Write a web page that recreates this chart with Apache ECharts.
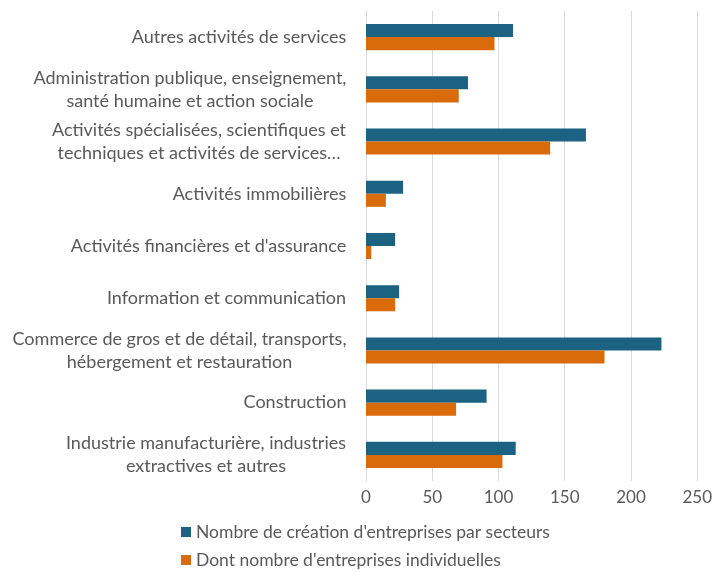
<!DOCTYPE html>
<html>
<head>
<meta charset="utf-8">
<script src="https://cdn.jsdelivr.net/npm/echarts@6/dist/echarts.min.js"></script>
<style>
  html, body { margin: 0; padding: 0; background: #fff; }
  #chart { width: 715px; height: 572px; }
</style>
</head>
<body>
<div id="chart"></div>
<script>
// Sectors, listed top to bottom
const categories = [
  "Autres activités de services",
  "Administration publique, enseignement,\nsanté humaine et action sociale",
  "Activités spécialisées, scientifiques et\ntechniques et activités de services…",
  "Activités immobilières",
  "Activités financières et d'assurance",
  "Information et communication",
  "Commerce de gros et de détail, transports,\nhébergement et restauration",
  "Construction",
  "Industrie manufacturière, industries\nextractives et autres"
];
const creations = [111, 77, 166, 28, 22, 25, 223, 91, 113];
const individuelles = [97, 70, 139, 15, 4, 22, 180, 68, 103];
const seriesNames = [
  "Nombre de création d'entreprises par secteurs",
  "Dont nombre d'entreprises individuelles"
];
const xTicks = { min: 0, max: 250, step: 50 };

const FONT = "Lato";
const FS = 18;
const TEXT = "#595959";
const BLUE = "#1c6383";
const ORANGE = "#d96b0a";

// Centre each line of a multi-line label inside the label's own width
const ctx = document.createElement("canvas").getContext("2d");
ctx.font = FS + "px " + FONT;
const rich = {};
categories.forEach((c, i) => {
  const w = Math.max(...c.split("\n").map(l => ctx.measureText(l).width));
  rich["c" + i] = { width: Math.ceil(w) + 1, align: "center", fontSize: FS, lineHeight: 23, color: TEXT, fontFamily: FONT };
});

const legendText = { color: TEXT, fontSize: 17.5, fontFamily: FONT, lineHeight: 20, padding: [0, 0, 0, 0] };
const legendBase = { orient: "vertical", left: 176, itemWidth: 10, itemHeight: 10, itemGap: 0, icon: "rect", textStyle: legendText };

const chart = echarts.init(document.getElementById("chart"));
chart.setOption({
  animation: false,
  textStyle: { fontFamily: FONT },
  grid: { left: 366, right: 17, top: 11, bottom: 91, containLabel: false },
  xAxis: {
    type: "value",
    min: xTicks.min, max: xTicks.max, interval: xTicks.step,
    axisLine: { show: false },
    axisTick: { show: false },
    splitLine: { lineStyle: { color: "#d9d9d9", width: 1 } },
    axisLabel: { color: TEXT, fontSize: 17, fontFamily: FONT, margin: 8 }
  },
  yAxis: {
    type: "category",
    inverse: true,
    data: categories,
    axisLine: { show: true, lineStyle: { color: "#d9d9d9" } },
    axisTick: { show: false },
    axisLabel: {
      margin: 19,
      formatter: (v, i) => v.split("\n").map(l => "{c" + i + "|" + l + "}").join("\n"),
      rich: rich
    }
  },
  legend: [
    Object.assign({ top: 517, data: [seriesNames[0]] }, legendBase),
    Object.assign({ top: 545, data: [seriesNames[1]] }, legendBase)
  ],
  series: [
    { name: seriesNames[0], type: "bar", data: creations, itemStyle: { color: BLUE }, barGap: "0%", barCategoryGap: "50%" },
    { name: seriesNames[1], type: "bar", data: individuelles, itemStyle: { color: ORANGE }, barGap: "0%", barCategoryGap: "50%" }
  ]
});
</script>
</body>
</html>
